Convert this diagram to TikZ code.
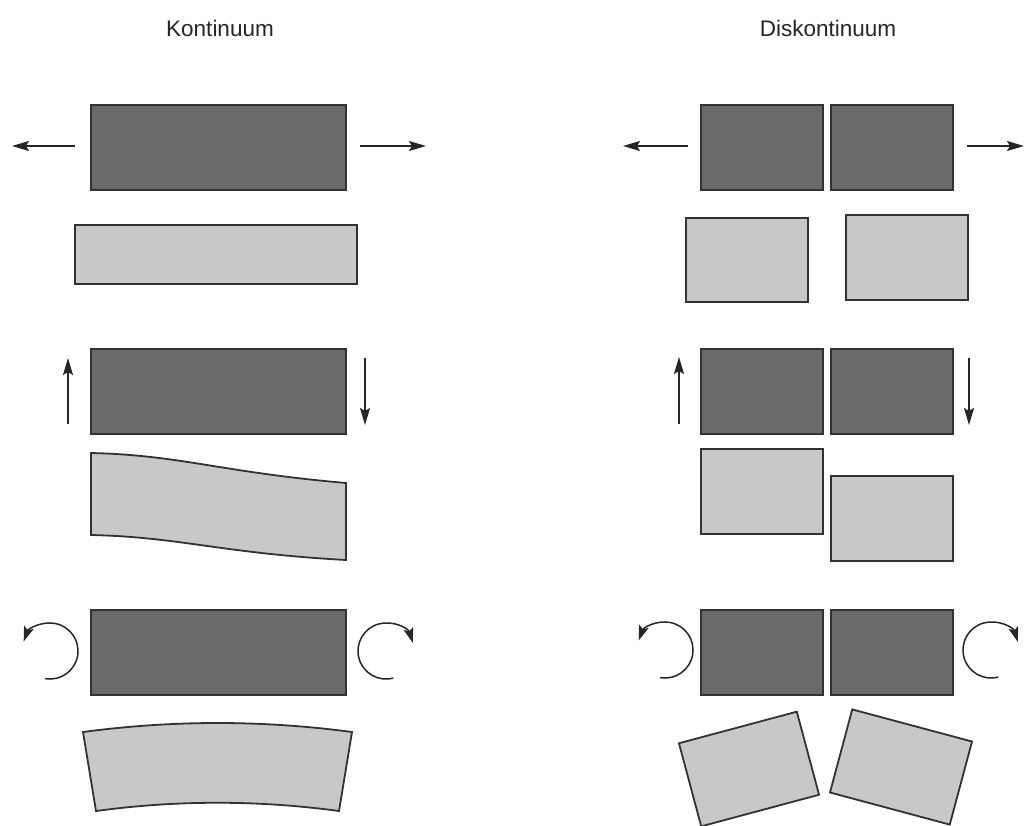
\documentclass[tikz,border=0pt]{standalone}
\usepackage{fontspec}
\setmainfont{Liberation Sans}
\usetikzlibrary{arrows.meta}
\definecolor{blockdark}{RGB}{106,106,106}
\definecolor{blocklight}{RGB}{200,200,200}
\definecolor{edge}{RGB}{50,50,50}
\tikzset{
  darkblock/.style={draw=edge, fill=blockdark, line width=1.8pt, inner sep=0pt, outer sep=0pt},
  lightblock/.style={draw=edge, fill=blocklight, line width=1.8pt, inner sep=0pt, outer sep=0pt},
  lightshape/.style={draw=edge, fill=blocklight, line width=1.8pt, line join=miter},
  force/.style={draw=black!85, line width=1.5pt, -{Stealth[length=17pt,width=10pt,inset=3pt]}},
  turn/.style={draw=black!85, line width=1.5pt, -{Stealth[length=15pt,width=10pt,inset=3pt]}},
  title/.style={font=\fontsize{22.5pt}{26pt}\selectfont, text=black!85, inner sep=0pt}
}
\begin{document}
\begin{tikzpicture}[x=1pt,y=-1pt]
\useasboundingbox (0,0) rectangle (1025,825);

% column headings
\node[title] (tK) at (220,28) {Kontinuum};
\node[title] (tD) at (828,28) {Diskontinuum};

% ---------- continuum: tension ----------
\node[darkblock, minimum width=255pt, minimum height=85pt] (k1) at (218.5,147.5) {};
\node[lightblock, minimum width=282pt, minimum height=59pt] (k1b) at (216,254.5) {};
\coordinate (k1l) at (75,146);  \coordinate (k1lt) at (12,146);
\coordinate (k1r) at (360,146); \coordinate (k1rt) at (426,146);
\draw[force] (k1l) -- (k1lt);
\draw[force] (k1r) -- (k1rt);

% ---------- continuum: shear ----------
\node[darkblock, minimum width=255pt, minimum height=85pt] (k2) at (218.5,391.5) {};
\coordinate (k2l) at (68,424);  \coordinate (k2lt) at (68,358);
\coordinate (k2r) at (365,358); \coordinate (k2rt) at (365,425);
\draw[force] (k2l) -- (k2lt);
\draw[force] (k2r) -- (k2rt);
\path[lightshape] (91,453) .. controls (180,455) and (220,472) .. (346,483)
  -- (346,560) .. controls (220,553) and (180,537) .. (91,535) -- cycle;

% ---------- continuum: bending ----------
\node[darkblock, minimum width=255pt, minimum height=85pt] (k3) at (218.5,652.5) {};
\coordinate (k3lc) at (50,651);
\coordinate (k3rc) at (386,651);
\draw[turn] (k3lc) ++(100:28) arc[start angle=100, end angle=-160, radius=28];
\draw[turn] (k3rc) ++(75:28) arc[start angle=75, end angle=343, radius=28];
\path[lightshape] (83,732) .. controls (173,720) and (262,720) .. (352,732)
  -- (339,811) .. controls (258,800) and (177,800) .. (96,811) -- cycle;

% ---------- discontinuum: tension ----------
\node[darkblock, minimum width=122pt, minimum height=85pt] (d1a) at (762,147.5) {};
\node[darkblock, minimum width=122pt, minimum height=85pt] (d1b) at (892,147.5) {};
\node[lightblock, minimum width=122pt, minimum height=84pt] (d1c) at (747,260) {};
\node[lightblock, minimum width=122pt, minimum height=85pt] (d1d) at (907,257.5) {};
\coordinate (d1l) at (688,146); \coordinate (d1lt) at (623,146);
\coordinate (d1r) at (967,146); \coordinate (d1rt) at (1024,146);
\draw[force] (d1l) -- (d1lt);
\draw[force] (d1r) -- (d1rt);

% ---------- discontinuum: shear ----------
\node[darkblock, minimum width=122pt, minimum height=85pt] (d2a) at (762,391.5) {};
\node[darkblock, minimum width=122pt, minimum height=85pt] (d2b) at (892,391.5) {};
\node[lightblock, minimum width=122pt, minimum height=85pt] (d2c) at (762,491.5) {};
\node[lightblock, minimum width=122pt, minimum height=85pt] (d2d) at (892,518.5) {};
\coordinate (d2l) at (679,424); \coordinate (d2lt) at (679,357);
\coordinate (d2r) at (969,358); \coordinate (d2rt) at (969,425);
\draw[force] (d2l) -- (d2lt);
\draw[force] (d2r) -- (d2rt);

% ---------- discontinuum: bending ----------
\node[darkblock, minimum width=122pt, minimum height=85pt] (d3a) at (762,652.5) {};
\node[darkblock, minimum width=122pt, minimum height=85pt] (d3b) at (892,652.5) {};
\coordinate (d3lc) at (665,650);
\coordinate (d3rc) at (991,650);
\draw[turn] (d3lc) ++(100:28) arc[start angle=100, end angle=-160, radius=28];
\draw[turn] (d3rc) ++(75:28) arc[start angle=75, end angle=343, radius=28];
\node[lightblock, minimum width=122pt, minimum height=86pt, rotate=15] (d3c) at (749,769) {};
\node[lightblock, minimum width=124pt, minimum height=86pt, rotate=-15] (d3d) at (901,767) {};
\end{tikzpicture}
\end{document}
